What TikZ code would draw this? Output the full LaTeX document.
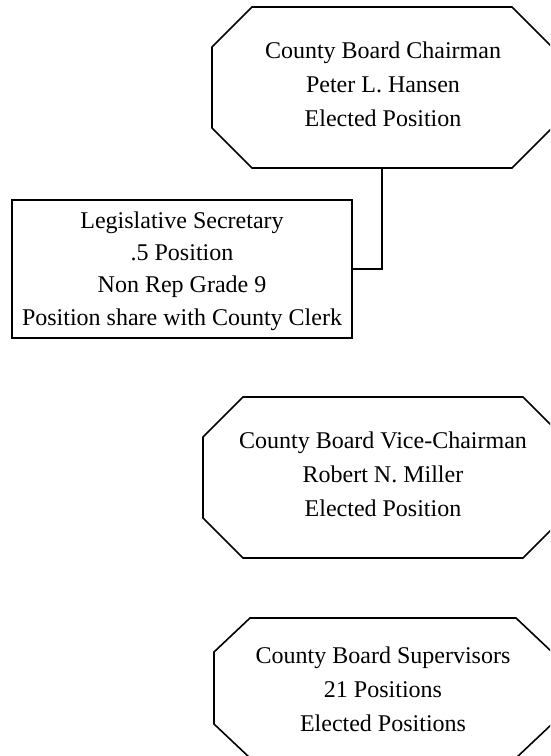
\documentclass[tikz,border=0pt]{standalone}
\usepackage{fontspec}
\setmainfont{Liberation Serif}

% Octagonal outline drawn around an (invisible) frame node:
% #1 node name, #2 horizontal cut, #3 vertical cut
\newcommand\octframe[3]{%
  \draw[outline]
    ([xshift=#2]#1.north west) -- ([xshift=-#2]#1.north east)
    -- ([yshift=-#3]#1.north east) -- ([yshift=#3]#1.south east)
    -- ([xshift=-#2]#1.south east) -- ([xshift=#2]#1.south west)
    -- ([yshift=#3]#1.south west) -- ([yshift=-#3]#1.north west) -- cycle;}

\begin{document}
\begin{tikzpicture}[x=0.75pt,y=-0.75pt,
  frame/.style={inner sep=0pt, outer sep=0pt},
  outline/.style={line width=1.2pt, line join=miter},
  postbox/.style={draw, line width=1.2pt, inner sep=0pt, outer sep=0pt},
  caption/.style={align=center, inner sep=0pt, font=\fontsize{18}{25.5}\selectfont},
  link/.style={line width=1.2pt}]
\useasboundingbox (0,0) rectangle (550,756);
\clip (0,0) rectangle (550,756);

% Chairman
\node[frame, minimum width=255pt, minimum height=120.75pt] (chair) at (382,87.5) {};
\octframe{chair}{30pt}{30pt}
\node[caption] (chairtext) at (383,84) {County Board Chairman\\Peter L. Hansen\\Elected Position};

% Legislative secretary
\node[postbox, minimum width=255pt, minimum height=103.5pt] (legis) at (182,269) {};
\node[caption, font=\fontsize{18}{24.3}\selectfont] (legistext) at (182,271) {Legislative Secretary\\.5 Position\\Non Rep Grade 9\\Position share with County Clerk};

% Vice-chairman
\node[frame, minimum width=270pt, minimum height=120.75pt] (vice) at (383,477.5) {};
\octframe{vice}{30pt}{30pt}
\node[caption] (vicetext) at (383,474) {County Board Vice-Chairman\\Robert N. Miller\\Elected Position};

% Supervisors
\node[frame, minimum width=253.5pt, minimum height=105pt] (sup) at (383,688) {};
\octframe{sup}{27pt}{25.5pt}
\node[caption] (suptext) at (383,689) {County Board Supervisors\\21 Positions\\Elected Positions};

% Connector from the chairman down to the secretary
\draw[link] (chair.south) |- (legis.east);
\end{tikzpicture}
\end{document}
